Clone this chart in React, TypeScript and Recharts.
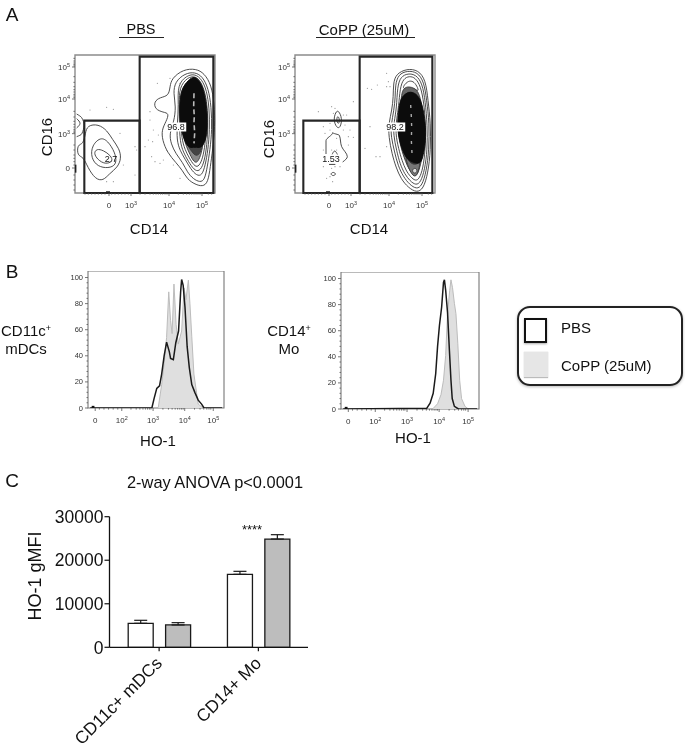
import {
  BarChart, Bar, XAxis, YAxis, ErrorBar, ScatterChart, Scatter, ComposedChart, Area, Line, ReferenceArea,
} from 'recharts';

const FONT = '"Liberation Sans", Arial, sans-serif';

type Pair = number[];

// Panel A: flow channels
const flowXMajor = [117, 183, 297, 396];
const flowXLabels = [['0'], ['10', '3'], ['10', '4'], ['10', '5']];
const flowXMinor = [45, 55, 65, 75, 85, 95, 105, 125, 135, 145, 155, 165, 175, 210, 225, 240, 250, 258, 265, 272, 278, 285, 291, 325, 340, 350, 358, 365, 372, 378, 384, 390, 415, 425];
const flowYMajor = [51, 147, 251, 354];
const flowYLabels = [['10', '5'], ['10', '4'], ['10', '3'], ['0']];
const flowYMinor = [25, 33, 39, 44, 48, 80, 97, 110, 119, 126, 133, 138, 143, 184, 201, 214, 223, 231, 238, 243, 247, 285, 300, 315, 325, 335, 345, 375, 390, 405, 420];
const zeroMarkY = [[17, 344], [17, 368]];
const zeroMarkX = [[108, 426], [120, 426]];

const pbsGates: Pair[][] = [
  [[209, 429], [209, 20], [430, 20], [430, 429]],
  [[43, 429], [43, 212], [209, 212], [209, 429]],
];
const coppGates: Pair[][] = [
  [[209, 429], [209, 20], [427, 20], [427, 429]],
  [[40, 429], [40, 212], [209, 212], [209, 429]],
];

const pbsRing1 = [[305, 85], [340, 58], [378, 56], [403, 70], [424, 105], [433, 160], [435, 230], [428, 300], [421, 350], [414, 398], [398, 410], [375, 403], [352, 388], [338, 362], [318, 338], [292, 308], [277, 270], [275, 240], [288, 215], [298, 190], [280, 187], [255, 178], [252, 155], [270, 142], [296, 138], [300, 110]];
const pbsRing2 = [[315, 95], [345, 70], [375, 66], [398, 80], [415, 115], [424, 170], [426, 240], [420, 300], [412, 350], [404, 390], [390, 397], [370, 387], [352, 367], [338, 337], [318, 312], [303, 282], [298, 250], [312, 215], [318, 170], [310, 130]];
const pbsRing3 = [[322, 105], [350, 76], [376, 72], [395, 88], [410, 120], [418, 175], [419, 240], [414, 300], [406, 345], [396, 377], [380, 377], [362, 357], [345, 327], [330, 302], [320, 270], [322, 220], [326, 165]];
const pbsRing4 = [[328, 112], [352, 82], [376, 78], [392, 94], [406, 128], [413, 180], [414, 240], [409, 300], [401, 342], [388, 365], [372, 360], [355, 334], [340, 307], [330, 275], [328, 220], [328, 160]];
const pbsRing5 = [[332, 120], [355, 90], [376, 84], [390, 100], [402, 135], [409, 185], [409, 240], [404, 295], [396, 332], [384, 352], [372, 347], [358, 324], [345, 300], [335, 265], [332, 215], [330, 165]];
const pbsLobe1 = [[52, 226], [85, 222], [112, 242], [127, 268], [148, 296], [154, 325], [143, 352], [117, 372], [100, 392], [76, 388], [53, 352], [40, 320], [22, 318], [22, 283], [40, 283], [46, 250]];
const pbsLobe2 = [[95, 258], [120, 281], [138, 315], [139, 345], [115, 355], [83, 350], [63, 324], [65, 286]];
const pbsLobe3 = [[80, 296], [100, 301], [122, 316], [130, 335], [105, 343], [83, 329], [71, 310]];
const pbsEdge1 = [[20, 192], [35, 203], [42, 225], [35, 252], [20, 260]];
const pbsEdge2 = [[20, 206], [30, 220], [20, 234]];
const pbsShade1 = [[334, 125], [356, 96], [374, 88], [388, 106], [399, 140], [405, 185], [405, 240], [399, 285], [392, 318], [382, 338], [372, 337], [360, 314], [350, 292], [340, 260], [335, 210]];
const pbsShade3 = [[336, 135], [358, 100], [374, 90], [392, 112], [402, 150], [405, 240], [398, 290], [388, 315], [375, 318], [362, 300], [348, 280], [338, 250]];
const pbsCore = [[330, 150], [336, 115], [355, 90], [372, 78], [390, 92], [403, 125], [411, 175], [413, 235], [407, 272], [393, 296], [375, 290], [358, 296], [342, 272], [331, 225], [328, 185]];
const pbsStreak = [[372, 130], [371, 170], [373, 200], [372, 215], [374, 250], [372, 280]];
const pbsDots = [[60, 180], [110, 172], [130, 178], [240, 210], [250, 240], [235, 270], [225, 290], [248, 275], [262, 100], [300, 85], [245, 320], [290, 300], [265, 255], [280, 330], [195, 290], [160, 345], [195, 375], [200, 300], [130, 395], [110, 395], [150, 250], [270, 340], [255, 335], [310, 345], [330, 100], [240, 185], [330, 385]];

const coppRing1 = [[310, 100], [318, 72], [350, 56], [385, 60], [407, 90], [414, 150], [422, 220], [422, 300], [414, 370], [400, 417], [380, 428], [355, 413], [333, 387], [318, 352], [306, 312], [296, 260], [296, 220], [306, 180], [310, 140]];
const coppRing2 = [[316, 105], [325, 73], [352, 62], [382, 66], [402, 95], [410, 150], [418, 220], [417, 300], [409, 365], [396, 407], [380, 418], [358, 403], [340, 380], [324, 347], [314, 307], [303, 260], [303, 225], [312, 180], [316, 140]];
const coppRing3 = [[322, 110], [332, 80], [354, 70], [378, 74], [397, 100], [406, 155], [412, 225], [412, 300], [404, 360], [392, 397], [378, 406], [360, 393], [344, 372], [330, 342], [320, 302], [310, 255], [312, 215], [320, 175]];
const coppRing4 = [[330, 115], [340, 86], [358, 78], [376, 83], [392, 108], [402, 160], [407, 225], [406, 300], [399, 355], [388, 387], [376, 393], [362, 381], [348, 362], [336, 332], [326, 297], [316, 250], [320, 205], [326, 170]];
const coppRing5 = [[337, 112], [352, 94], [366, 92], [378, 102], [388, 125], [376, 118], [358, 112], [345, 118]];
const coppDiamond = [[145, 180], [157, 205], [151, 234], [140, 234], [130, 210], [137, 186]];
const coppDiamondInner = [[143, 195], [150, 210], [145, 225], [139, 210]];
const coppOval = [[120, 372], [130, 365], [139, 372], [130, 379]];
const coppLoopSmall = [[126, 314], [134, 303], [143, 315]];
const coppHook = [[108, 312], [108, 272], [128, 248], [148, 256], [155, 290], [172, 320], [158, 336]];
const coppDash = [[117, 343], [136, 343]];
const coppShade1 = [[335, 125], [345, 112], [358, 110], [372, 114], [386, 125], [396, 165], [402, 225], [400, 300], [392, 345], [382, 375], [374, 378], [362, 365], [352, 348], [342, 322], [332, 290], [324, 250], [326, 205], [332, 165]];
const coppShade2 = [[345, 315], [360, 325], [392, 325], [388, 355], [380, 378], [370, 380], [355, 355]];
const coppShade3 = [[328, 175], [340, 135], [360, 122], [380, 135], [394, 175], [402, 235], [400, 295], [392, 335], [378, 345], [360, 340], [345, 315], [332, 275], [326, 225]];
const coppCore = [[326, 180], [330, 150], [345, 130], [368, 124], [388, 140], [400, 175], [408, 235], [406, 285], [398, 325], [390, 342], [372, 338], [352, 330], [336, 300], [324, 255], [322, 215]];
const coppSpot = [[367, 358], [376, 353], [383, 362], [376, 371], [368, 367]];
const coppStreak = [[362, 165], [364, 200], [365, 232], [364, 270], [366, 310]];
const coppDots = [[232, 115], [245, 118], [262, 105], [290, 70], [295, 95], [290, 110], [225, 295], [258, 320], [270, 320], [85, 185], [125, 170], [135, 175], [190, 155], [160, 195], [170, 195], [100, 230], [180, 240], [175, 260], [165, 225], [120, 240], [130, 190], [105, 250], [190, 262], [175, 285], [120, 220], [160, 240], [140, 265], [125, 300], [100, 300], [150, 350], [100, 350], [110, 385], [128, 395], [125, 355], [140, 300], [120, 380], [135, 350], [240, 230], [290, 290], [300, 110]];

// Panel B: decades of HO-1 and % of max
const histXMajor = [1.165, 2.03, 3.05, 4.08, 5.01];
const histXLabels = [['0'], ['10', '2'], ['10', '3'], ['10', '4'], ['10', '5']];
const histXMinor = [1.3, 1.45, 1.6, 1.75, 1.9, 2.33, 2.5, 2.62, 2.72, 2.8, 2.87, 2.93, 2.98, 3.37, 3.55, 3.67, 3.77, 3.85, 3.92, 3.98, 4.03, 4.4, 4.58, 4.7, 4.8, 4.87, 4.93];
const histYMajor = [0, 20, 40, 60, 80, 100];
const histYMinor = [4, 8, 12, 16, 24, 28, 32, 36, 44, 48, 52, 56, 64, 68, 72, 76, 84, 88, 92, 96];

const mdcPbsX = [1, 3.01, 3.08, 3.17, 3.26, 3.33, 3.41, 3.49, 3.58, 3.62, 3.71, 3.79, 3.88, 3.95, 3.98, 4.03, 4.09, 4.16, 4.23, 4.31, 4.41, 4.52, 4.63, 4.71, 5.3];
const mdcPbsY = [0, 0, 7, 15, 17, 26, 40, 50.5, 43, 38, 37, 50, 59, 90, 98.5, 94, 77, 47, 31, 18, 12, 6, 3, 0, 0];
const mdcCoppX = [3.22, 3.33, 3.41, 3.49, 3.56, 3.62, 3.67, 3.73, 3.8, 3.87, 3.98, 4.06, 4.12, 4.2, 4.25, 4.31, 4.38, 4.47, 4.52, 4.68];
const mdcCoppY = [0.5, 18, 34, 54, 89, 67, 57, 95, 64, 49, 59, 92, 83, 98, 80, 55, 26, 11, 3, 0];
const moPbsX = [1, 3.68, 3.79, 3.89, 3.97, 4.03, 4.09, 4.16, 4.22, 4.25, 4.29, 4.35, 4.41, 4.46, 4.5, 4.57, 4.7, 5.3];
const moPbsY = [0, 0.5, 4.5, 12, 27, 48, 64, 78, 97, 99, 91, 74, 45, 22, 8, 2, 0, 0];
const moCoppX = [3.89, 4.03, 4.14, 4.22, 4.29, 4.35, 4.42, 4.46, 4.51, 4.57, 4.62, 4.68, 4.74, 4.8, 4.91, 5.02];
const moCoppY = [0.5, 4, 11, 22, 41, 73, 91, 99, 93, 81, 73, 50, 22, 8, 2, 0];
const histMark = [[1.05, 0.5], [1.14, 0.5]];

// Panel C
const barCategories = ['CD11c+ mDCs', 'CD14+ Mo'];
const pbsGmfi = [5510, 16760];
const coppGmfi = [5130, 24870];
const pbsSem = [690, 690];
const coppSem = [530, 1000];
const gmfiTicks = [0, 10000, 20000, 30000];

const barTable = barCategories.map((name, i) => ({
  name,
  pbs: pbsGmfi[i],
  copp: coppGmfi[i],
  pbsErr: [0, pbsSem[i]],
  coppErr: [0, coppSem[i]],
}));

const toPoints = (pts: Pair[]) => pts.map(([x, y]) => ({ x, y }));
const toSeries = (xs: number[], ys: number[]) => xs.map((x, i) => ({ x, y: ys[i] }));

const Power = ({ parts, size }: { parts: string[]; size: number }) => (
  <>
    {parts[0]}
    {parts[1] ? <tspan fontSize={size * 0.68} dy={-size * 0.35}>{parts[1]}</tspan> : null}
  </>
);

const makeXTick = (major: number[], labels: string[][], labelGap: number) => (props: any) => {
  const { x, y, payload } = props;
  const i = major.indexOf(payload.value);
  return (
    <g>
      <line x1={x} x2={x} y1={y} y2={y + (i >= 0 ? 3 : 1.6)} stroke="#555" strokeWidth={0.8} />
      {i >= 0 ? (
        <text x={x} y={y + labelGap} textAnchor="middle" fontSize={8} fill="#333" fontFamily={FONT}>
          <Power parts={labels[i]} size={8} />
        </text>
      ) : null}
    </g>
  );
};

const makeYTick = (major: number[], labels: string[][]) => (props: any) => {
  const { x, y, payload } = props;
  const i = major.indexOf(payload.value);
  return (
    <g>
      <line x1={x} x2={x - (i >= 0 ? 3 : 1.6)} y1={y} y2={y} stroke="#555" strokeWidth={0.8} />
      {i >= 0 ? (
        <text x={x - 5} y={y + 3} textAnchor="end" fontSize={8} fill="#333" fontFamily={FONT}>
          <Power parts={labels[i]} size={8} />
        </text>
      ) : null}
    </g>
  );
};

const noDot = () => null;
const tinyDot = (props: any) => <circle cx={props.cx} cy={props.cy} r={0.55} fill="#8a8a8a" />;

const Ring = ({ pts, fill, stroke, width }: { pts: Pair[]; fill?: string; stroke?: string; width?: number }) => (
  <Scatter
    data={toPoints(pts)}
    shape={noDot}
    lineJointType="basisClosed"
    line={{ fill: fill ?? 'none', stroke: stroke ?? '#3a3a3a', strokeWidth: width ?? 0.9 }}
    isAnimationActive={false}
  />
);

const Trace = ({ pts, joint, stroke, width, dash }: { pts: Pair[]; joint: string; stroke?: string; width?: number; dash?: string }) => (
  <Scatter
    data={toPoints(pts)}
    shape={noDot}
    lineJointType={joint as any}
    line={{ fill: 'none', stroke: stroke ?? '#3a3a3a', strokeWidth: width ?? 0.9, strokeDasharray: dash }}
    isAnimationActive={false}
  />
);

const flowX = makeXTick(flowXMajor, flowXLabels, 15);
const flowY = makeYTick(flowYMajor, flowYLabels);

const FlowPlot = ({ left, gates, dots, children }: { left: number; gates: Pair[][]; dots: Pair[]; children: any }) => (
  <div style={{ position: 'absolute', left: left - 30, top: 45 }}>
    <ScatterChart width={185} height={175} margin={{ top: 10, right: 15, left: 0, bottom: 0 }}>
      <XAxis type="number" dataKey="x" domain={[15, 435]} ticks={[...flowXMajor, ...flowXMinor]} interval={0}
        height={27} axisLine={false} tickSize={0} tickMargin={0} tick={flowX} />
      <YAxis type="number" dataKey="y" domain={[15, 429]} reversed ticks={[...flowYMajor, ...flowYMinor]} interval={0}
        width={30} axisLine={false} tickSize={0} tickMargin={0} tick={flowY} />
      <ReferenceArea x1={15} x2={435} y1={15} y2={429} fill="none" stroke="#8c8c8c" strokeWidth={1.4} />
      <Scatter data={toPoints(dots)} shape={tinyDot} isAnimationActive={false} />
      {children}
      {gates.map((g, i) => (
        <Scatter key={i} data={toPoints(g)} shape={noDot} lineJointType="linearClosed"
          line={{ fill: 'none', stroke: '#262626', strokeWidth: 2.1 }} isAnimationActive={false} />
      ))}
      <Trace pts={zeroMarkY} joint="linear" stroke="#222" width={1.5} />
      <Trace pts={zeroMarkX} joint="linear" stroke="#222" width={1.5} />
    </ScatterChart>
  </div>
);

const histX = makeXTick(histXMajor, histXLabels, 15);
const histY = (props: any) => {
  const { x, y, payload } = props;
  const major = histYMajor.includes(payload.value);
  return (
    <g>
      <line x1={x} x2={x - (major ? 3 : 1.5)} y1={y} y2={y} stroke="#555" strokeWidth={0.8} />
      {major ? (
        <text x={x - 5} y={y + 2.5} textAnchor="end" fontSize={7.5} fill="#333" fontFamily={FONT}>{payload.value}</text>
      ) : null}
    </g>
  );
};

const HistPlot = ({ left, top, w, h, pbs, copp }: { left: number; top: number; w: number; h: number; pbs: any[]; copp: any[] }) => (
  <div style={{ position: 'absolute', left: left - 30, top }}>
    <ComposedChart width={w + 35} height={h + 25} margin={{ top: 0, right: 5, left: 0, bottom: 0 }}>
      <XAxis type="number" dataKey="x" domain={[0.93, 5.36]} allowDataOverflow ticks={[...histXMajor, ...histXMinor]}
        interval={0} height={25} axisLine={false} tickSize={0} tickMargin={0} tick={histX} />
      <YAxis type="number" domain={[0, 105]} allowDataOverflow ticks={[...histYMajor, ...histYMinor]} interval={0}
        width={30} axisLine={false} tickSize={0} tickMargin={0} tick={histY} />
      <ReferenceArea x1={0.93} x2={5.36} y1={0} y2={105} fill="none" stroke="#777" strokeWidth={1.1} />
      <Area data={copp} dataKey="y" type="linear" fill="#dfdfdf" fillOpacity={1} stroke="#bcbcbc" strokeWidth={1}
        dot={false} activeDot={false} isAnimationActive={false} />
      <Line data={pbs} dataKey="y" type="linear" stroke="#1a1a1a" strokeWidth={1.5} dot={false} activeDot={false}
        isAnimationActive={false} />
      <Line data={toPoints(histMark)} dataKey="y" stroke="#111" strokeWidth={3} dot={false} activeDot={false}
        isAnimationActive={false} />
    </ComposedChart>
  </div>
);

const CategoryTick = (props: any) => {
  const { x, y, payload } = props;
  return (
    <text x={x + 4} y={y + 13} textAnchor="end" fontSize={17.4} fill="#111" fontFamily={FONT}
      transform={`rotate(-45 ${x + 4} ${y + 13})`}>
      {payload.value}
    </text>
  );
};

const Txt = ({ x, y, size, children, rotate, box }: any) => (
  <div style={{
    position: 'absolute', left: x, top: y, fontFamily: FONT, fontSize: size, color: '#111', whiteSpace: 'nowrap', lineHeight: 1,
    transform: `translate(-50%, -50%)${rotate ? ` rotate(${rotate}deg)` : ''}`,
    background: box ? '#fff' : undefined, padding: box ? '0 1px' : undefined,
  }}>
    {children}
  </div>
);

const Rule = ({ x, y, w }: { x: number; y: number; w: number }) => (
  <div style={{ position: 'absolute', left: x, top: y, width: w, height: 1.3, background: '#222' }} />
);

const Sup = () => <sup style={{ fontSize: 9, verticalAlign: 'baseline', position: 'relative', top: -5 }}>+</sup>;

const App = () => (
  <div style={{ position: 'absolute', left: 0, top: 0, width: 685, height: 750, overflow: 'hidden', background: '#fff', filter: 'blur(0.35px)' }}>
    <Txt x={12} y={14} size={19}>A</Txt>
    <Txt x={141} y={29} size={14.5}>PBS</Txt>
    <Rule x={119} y={37} w={45} />
    <Txt x={364} y={29} size={15}>CoPP (25uM)</Txt>
    <Rule x={316} y={37} w={99} />

    <FlowPlot left={75} gates={pbsGates} dots={pbsDots}>
      <Ring pts={pbsRing1} />
      <Ring pts={pbsRing2} />
      <Ring pts={pbsRing3} />
      <Ring pts={pbsRing4} />
      <Ring pts={pbsRing5} />
      <Ring pts={pbsLobe1} />
      <Ring pts={pbsLobe2} />
      <Ring pts={pbsLobe3} />
      <Trace pts={pbsEdge1} joint="monotoneY" />
      <Trace pts={pbsEdge2} joint="monotoneY" />
      <Ring pts={pbsShade1} fill="#8a8a8a" />
      <Ring pts={pbsShade3} fill="#444" />
      <Ring pts={pbsCore} fill="#0c0c0c" stroke="#0c0c0c" />
      <Trace pts={pbsStreak} joint="linear" stroke="#bbb" width={1.6} dash="5 3" />
    </FlowPlot>
    <Txt x={176} y={127} size={9} box>96.8</Txt>
    <Txt x={111} y={159} size={9}>2.7</Txt>

    <FlowPlot left={295} gates={coppGates} dots={coppDots}>
      <Ring pts={coppRing1} />
      <Ring pts={coppRing2} />
      <Ring pts={coppRing3} />
      <Ring pts={coppRing4} />
      <Ring pts={coppRing5} />
      <Ring pts={coppDiamond} />
      <Ring pts={coppDiamondInner} />
      <Ring pts={coppOval} />
      <Trace pts={coppLoopSmall} joint="monotoneX" />
      <Trace pts={coppHook} joint="monotoneY" />
      <Trace pts={coppDash} joint="linear" stroke="#333" width={1} />
      <Ring pts={coppShade1} fill="#666" />
      <Ring pts={coppShade2} fill="#777" />
      <Ring pts={coppShade3} fill="#2e2e2e" />
      <Ring pts={coppCore} fill="#0c0c0c" stroke="#0c0c0c" />
      <Ring pts={coppSpot} fill="#ddd" />
      <Trace pts={coppStreak} joint="linear" stroke="#aaa" width={1.4} dash="3 6" />
    </FlowPlot>
    <Txt x={395} y={127} size={9} box>98.2</Txt>
    <Txt x={331} y={159} size={9} box>1.53</Txt>

    <Txt x={46} y={137} size={15} rotate={-90}>CD16</Txt>
    <Txt x={149} y={228} size={15}>CD14</Txt>
    <Txt x={268} y={139} size={15} rotate={-90}>CD16</Txt>
    <Txt x={369} y={228} size={15}>CD14</Txt>

    <Txt x={12} y={271} size={19}>B</Txt>
    <Txt x={26} y={330} size={15}>CD11c<Sup /></Txt>
    <Txt x={26} y={348} size={15}>mDCs</Txt>
    <Txt x={289} y={330} size={15}>CD14<Sup /></Txt>
    <Txt x={289} y={348} size={15}>Mo</Txt>

    <HistPlot left={88} top={271} w={136} h={137} pbs={toSeries(mdcPbsX, mdcPbsY)} copp={toSeries(mdcCoppX, mdcCoppY)} />
    <HistPlot left={341} top={272} w={138} h={137} pbs={toSeries(moPbsX, moPbsY)} copp={toSeries(moCoppX, moCoppY)} />
    <Txt x={158} y={440} size={15}>HO-1</Txt>
    <Txt x={413} y={437} size={15}>HO-1</Txt>

    <div style={{ position: 'absolute', left: 517, top: 306, width: 162, height: 76, border: '2px solid #222', borderRadius: 13, boxShadow: '0 1px 3px #bbb' }} />
    <div style={{ position: 'absolute', left: 524, top: 318, width: 19, height: 21, border: '2.5px solid #111', boxShadow: '0 1px 2px #aaa' }} />
    <div style={{ position: 'absolute', left: 524, top: 352, width: 24, height: 25, background: '#e6e6e6', borderBottom: '1px solid #bbb', boxShadow: '0 0 1px #bbb' }} />
    <div style={{ position: 'absolute', left: 561, top: 320, fontFamily: FONT, fontSize: 15, color: '#111', lineHeight: 1 }}>PBS</div>
    <div style={{ position: 'absolute', left: 561, top: 358, fontFamily: FONT, fontSize: 15, color: '#111', lineHeight: 1 }}>CoPP (25uM)</div>

    <Txt x={12} y={480} size={19}>C</Txt>
    <Txt x={215} y={482} size={16.4}>2-way ANOVA p&lt;0.0001</Txt>
    <Txt x={252} y={529} size={13}>****</Txt>
    <Txt x={35} y={576} size={18} rotate={-90}>HO-1 gMFI</Txt>

    <div style={{ position: 'absolute', left: 0, top: 506 }}>
      <BarChart width={322} height={244} data={barTable} barGap={12.4} barCategoryGap={18.7}
        margin={{ top: 10.7, right: 14, left: 0, bottom: 0 }}>
        <XAxis dataKey="name" height={102.7} interval={0} tick={CategoryTick} tickSize={4} tickMargin={0}
          stroke="#111" axisLine={{ stroke: '#111', strokeWidth: 1.3 }} tickLine={{ stroke: '#111', strokeWidth: 1.2 }} />
        <YAxis type="number" domain={[0, 30000]} ticks={gmfiTicks} interval={0} width={109.5} tickSize={5} tickMargin={1}
          tick={{ fontSize: 17.5, fill: '#111', fontFamily: FONT }}
          axisLine={{ stroke: '#111', strokeWidth: 1.3 }} tickLine={{ stroke: '#111', strokeWidth: 1.2 }} />
        <Bar dataKey="pbs" fill="#ffffff" stroke="#1a1a1a" strokeWidth={1.3} isAnimationActive={false}>
          <ErrorBar dataKey="pbsErr" direction="y" width={6.5} stroke="#1a1a1a" strokeWidth={1.2} isAnimationActive={false} />
        </Bar>
        <Bar dataKey="copp" fill="#bdbdbd" stroke="#1a1a1a" strokeWidth={1.3} isAnimationActive={false}>
          <ErrorBar dataKey="coppErr" direction="y" width={6.5} stroke="#1a1a1a" strokeWidth={1.2} isAnimationActive={false} />
        </Bar>
      </BarChart>
    </div>
  </div>
);

export default App;
